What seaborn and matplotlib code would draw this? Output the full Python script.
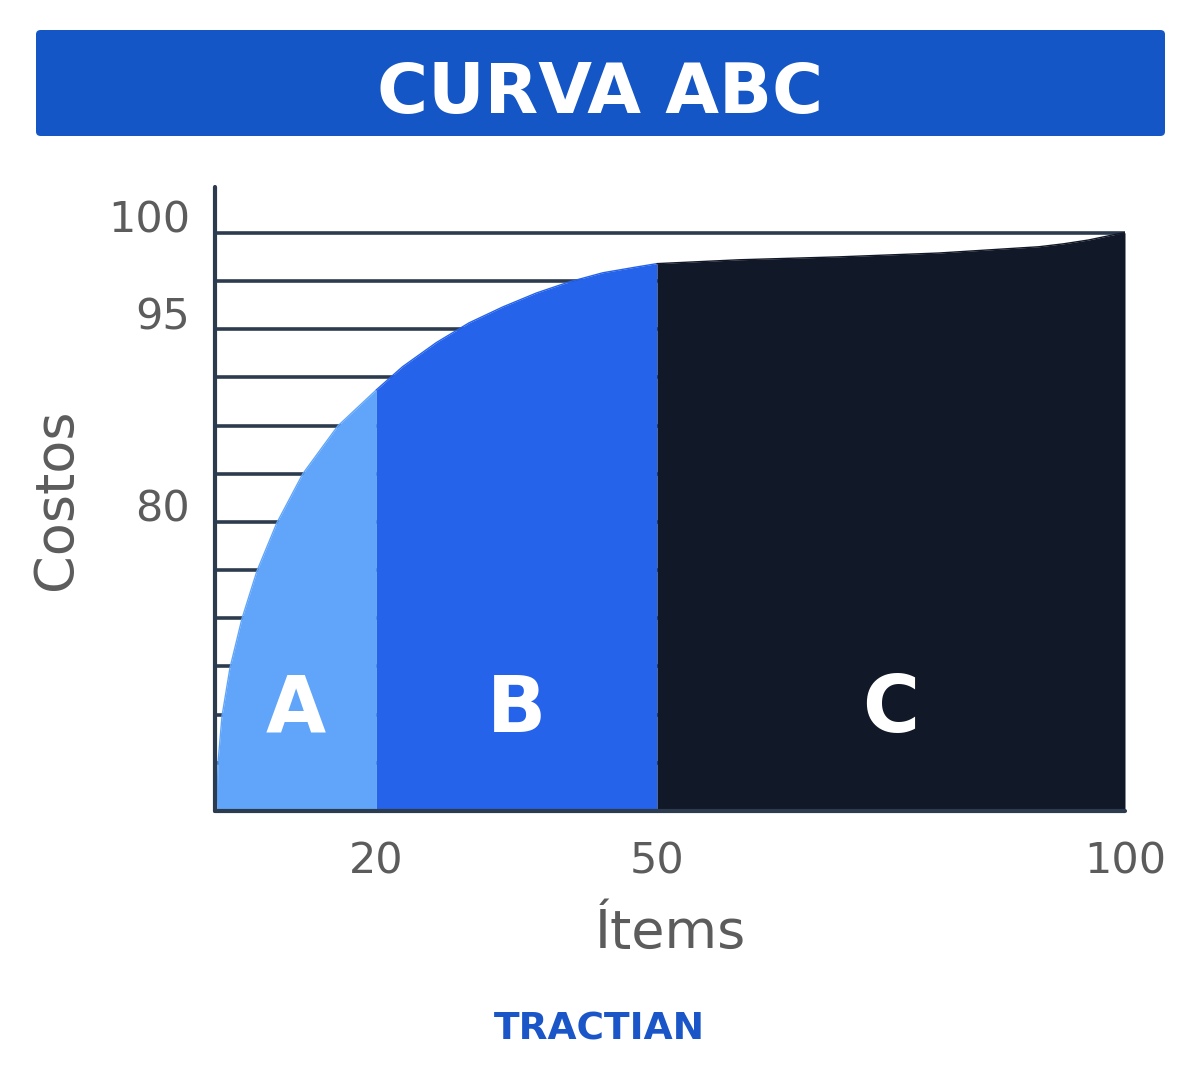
import numpy as np
import pandas as pd
import seaborn as sns
import matplotlib.pyplot as plt
from matplotlib.patches import FancyBboxPatch


# curve (y in grid steps: 12 = 100, 10 = 95, 6 = 80)
items = [2.98, 3.08, 3.51, 4.36, 5.64, 7.24, 9.37, 12.15, 15.88, 20,
         22.8, 26.4, 29.9, 33.5, 37.1, 40.6, 44.2, 47.8, 50,
         58.8, 69.4, 80.1, 90.8, 93.4, 96.1, 99.3, 100]
costos = [0.0, 1.00, 1.97, 2.97, 3.99, 4.98, 5.98, 7.00, 7.99, 8.74,
          9.22, 9.72, 10.13, 10.46, 10.75, 10.98, 11.17, 11.29, 11.36,
          11.44, 11.50, 11.58, 11.71, 11.77, 11.85, 11.98, 12.0]

zonas = ['A', 'B', 'C']
limites = [20, 50, 100]
colores = ['#60a5fa', '#2563eb', '#111827']

ytick_pos = [12, 10, 6]
ytick_labels = ['100', '95', '80']
xtick_pos = [20, 50, 100]

x_min = 2.76
linea = '#2d3b4f'
gris = '#5c5c5c'

sns.set_theme(style='white')
plt.rcParams['font.family'] = ['DejaVu Sans']

fig = plt.figure(figsize=(11.92, 10.84), dpi=100)
ax = fig.add_axes([215/1192, 1-811/1084, 910/1192, 624/1084])

x = np.array(items)
y = np.array(costos)

rows = []
inicio = x_min
for z, lim in zip(zonas, limites):
    m = (x >= inicio) & (x <= lim)
    for xi, yi in zip(x[m], y[m]):
        rows.append({'items': xi, 'costos': yi, 'zona': z})
    inicio = lim
df = pd.DataFrame(rows)

paleta = dict(zip(zonas, colores))
sns.lineplot(data=df, x='items', y='costos', hue='zona', palette=paleta,
             legend=False, lw=1, ax=ax, zorder=3)
for z in zonas:
    d = df[df['zona'] == z]
    ax.fill_between(d['items'], 0, d['costos'], color=paleta[z], lw=0, zorder=2)

# letters in the middle of each zone
inicio = x_min
for z, lim in zip(zonas, limites):
    ax.text((inicio + lim) / 2, 1.64, z, ha='center', va='baseline',
            color='white', fontsize=56, fontweight='bold', zorder=5)
    inicio = lim

ax.set_xlim(x_min, 100)
ax.set_ylim(0, 12.95)

ax.yaxis.remove_overlapping_locs = False
ax.set_yticks(np.arange(1, 13), minor=True)
ax.grid(which='minor', axis='y', color=linea, lw=2.6)
ax.grid(which='major', visible=False)
ax.set_axisbelow(True)

ax.set_yticks(ytick_pos)
ax.set_yticklabels(ytick_labels)
ax.set_xticks(xtick_pos)
ax.set_xticklabels([str(v) for v in xtick_pos])
ax.tick_params(axis='y', which='both', length=0, pad=18, labelsize=31, labelcolor=gris)
ax.tick_params(axis='x', which='both', length=0, pad=21, labelsize=31, labelcolor=gris)
for lab in ax.get_yticklabels():
    lab.set_verticalalignment('baseline')

for side in ['top', 'right']:
    ax.spines[side].set_visible(False)
for side in ['left', 'bottom']:
    ax.spines[side].set_color(linea)
    ax.spines[side].set_linewidth(3)
    ax.spines[side].set_capstyle('round')
    ax.spines[side].set_zorder(6)

ax.set_xlabel('Ítems', fontsize=39, color=gris)
ax.set_ylabel('Costos', fontsize=39, color=gris)
ax.xaxis.set_label_coords(0.5, -0.154)
ax.yaxis.set_label_coords(-0.146, 0.5)

# title banner
fig.patches.append(FancyBboxPatch((36/1192, 1-136/1084), 1129/1192, 106/1084,
                                  boxstyle='round,pad=0,rounding_size=0.004',
                                  transform=fig.transFigure, color='#1456c5', lw=0))
fig.text(600/1192, 1-113/1084, 'CURVA ABC', ha='center', va='baseline',
         color='white', fontsize=50, fontweight='bold')

fig.text(599/1192, 1-1040/1084, 'TRACTIAN', ha='center', va='baseline',
         color='#1a56c8', fontsize=27, fontweight='bold')

fig.savefig('out.png', dpi=100, facecolor='white')
